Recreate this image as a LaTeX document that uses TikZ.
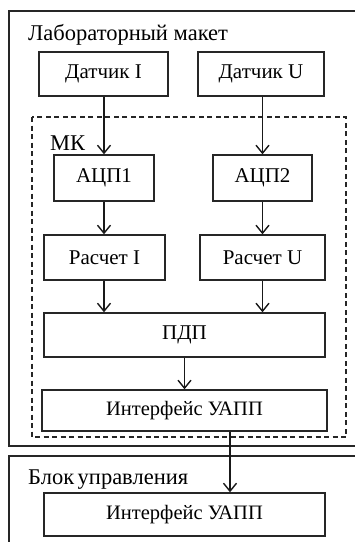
\documentclass[tikz,border=0pt]{standalone}
\usepackage{fontspec}
\setmainfont{Liberation Serif}
\usetikzlibrary{arrows.meta}
\begin{document}
\begin{tikzpicture}[x=1pt,y=-1pt,
  blk/.style={draw=black!85,line width=1.4pt,minimum width=#1,inner sep=0pt,font=\fontsize{21}{23}\selectfont},
  blks/.style={draw=black!85,line width=1.4pt,minimum width=#1,inner sep=0pt,font=\fontsize{20.5}{22}\selectfont},
  frame/.style={draw=black!85,line width=1.4pt},
  dbox/.style={draw=black!85,line width=1.3pt,dash pattern=on 5pt off 3.5pt},
  lbl/.style={anchor=west,inner sep=0pt,font=\fontsize{22.5}{24}\selectfont},
  arr/.style={draw=black!90,line width=1.4pt,-{Straight Barb[length=8pt,width=13pt,line width=1.4pt]}}
]
\clip (0,0) rectangle (355,542);
\fill[white] (0,0) rectangle (355,542);
% outer frames
\draw[frame] (9,11) rectangle (380,446);
\draw[frame] (9,456) rectangle (380,580);
\draw[dbox] (32,117) rectangle (346,437);
% labels
\node[lbl] (tlab) at (28,35) {Лабораторный макет};
\node[lbl] (tmk) at (50,143) {МК};
\node[lbl] (tblk) at (28,480) {Блок\hspace{3.5pt}управления};
% blocks
\node[blk=129pt,minimum height=44pt] (dI) at (103.5,74) {Датчик I};
\node[blk=126pt,minimum height=44pt] (dU) at (261,74) {Датчик U};
\node[blk=100pt,minimum height=46pt] (a1) at (104,178) {АЦП1};
\node[blk=99pt,minimum height=46pt] (a2) at (262.5,178) {АЦП2};
\node[blk=121pt,minimum height=45pt] (rI) at (104.5,257.5) {Расчет I};
\node[blk=125pt,minimum height=45pt] (rU) at (262.5,257.5) {Расчет U};
\node[blk=281pt,minimum height=44pt] (pdp) at (184.5,335) {ПДП};
\node[blks=285pt,minimum height=41pt] (if1) at (184.5,410.5) {Интерфейс УАПП};
\node[blks=281pt,minimum height=43pt] (if2) at (184.5,514.5) {Интерфейс УАПП};
% connectors
\coordinate (cI) at (104,0);
\coordinate (cU) at (262.5,0);
\coordinate (cP) at (230,0);
\draw[arr] (dI.south -| cI) -- (a1.north -| cI);
\draw[arr] (dU.south -| cU) -- (a2.north -| cU);
\draw[arr] (a1.south -| cI) -- (rI.north -| cI);
\draw[arr] (a2.south -| cU) -- (rU.north -| cU);
\draw[arr] (rI.south -| cI) -- (pdp.north -| cI);
\draw[arr] (rU.south -| cU) -- (pdp.north -| cU);
\draw[arr] (pdp.south) -- (if1.north);
\draw[arr] (if1.south -| cP) -- (if2.north -| cP);
\end{tikzpicture}
\end{document}
